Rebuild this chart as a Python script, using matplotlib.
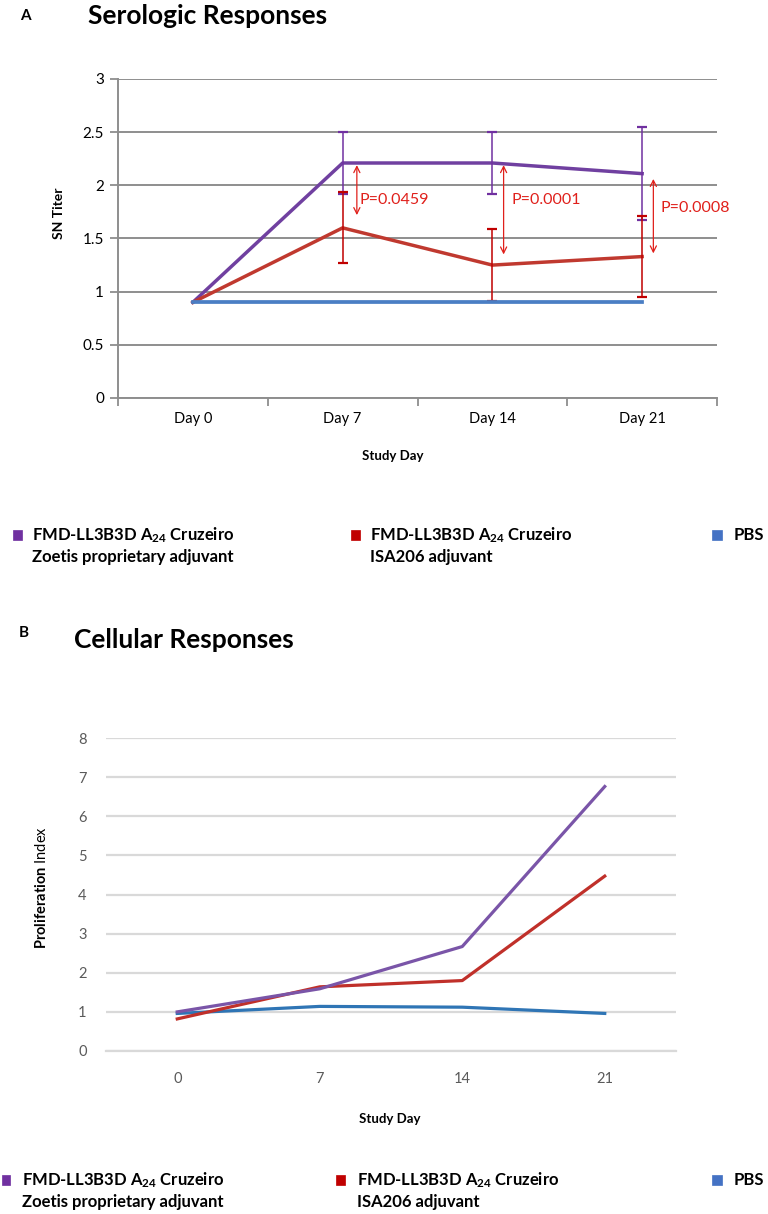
import matplotlib
matplotlib.use('Agg')
import matplotlib.pyplot as plt
from matplotlib.patches import Rectangle

# ---------------- data ----------------
days_top = ['Day 0', 'Day 7', 'Day 14', 'Day 21']
zoetis_sn = [0.90, 2.21, 2.21, 2.11]
zoetis_sn_err = [0.0, 0.29, 0.29, 0.44]
isa_sn = [0.90, 1.60, 1.25, 1.33]
isa_sn_err = [0.0, 0.335, 0.335, 0.38]
pbs_sn = [0.90, 0.90, 0.90, 0.90]
top_yticks = [0, 0.5, 1, 1.5, 2, 2.5, 3]
top_yticklabels = ['0', '0.5', '1', '1.5', '2', '2.5', '3']

p_labels = ['P=0.0459', 'P=0.0001', 'P=0.0008']
p_days = [1, 2, 3]
p_arrow_top = [2.19, 2.19, 2.06]
p_arrow_bottom = [1.72, 1.35, 1.36]
p_text_y = [1.86, 1.86, 1.79]

days_bot = ['0', '7', '14', '21']
zoetis_pi = [1.00, 1.59, 2.67, 6.76]
isa_pi = [0.82, 1.64, 1.80, 4.47]
pbs_pi = [0.96, 1.14, 1.12, 0.96]
bot_yticks = [0, 1, 2, 3, 4, 5, 6, 7, 8]

legend_line1 = r'FMD-LL3B3D A$_{\mathbf{24}}$ Cruzeiro'
legend_zoetis2 = 'Zoetis proprietary adjuvant'
legend_isa2 = 'ISA206 adjuvant'
legend_pbs = 'PBS'

# ---------------- style ----------------
W, H = 768, 1214
plt.rcParams['font.family'] = ['Lato', 'DejaVu Sans']
plt.rcParams['mathtext.fontset'] = 'custom'
plt.rcParams['mathtext.rm'] = 'Lato'
plt.rcParams['mathtext.bf'] = 'Lato:bold'
plt.rcParams['mathtext.it'] = 'Lato:italic'

PURPLE_T = '#7040a0'
RED_T = '#c0392f'
BLUE_T = '#4a7ec4'
PURPLE_EB = '#7030a0'
RED_EB = '#c00000'
ARROW_RED = '#e0201b'
GRID_T = '#8e8e8e'

PURPLE_B = '#7a55a8'
RED_B = '#c0302a'
BLUE_B = '#2f75b5'
GRID_B = '#d9d9d9'
TICK_B = '#5a5a5a'

LEG_PURPLE = '#7030a0'
LEG_RED = '#c00000'
LEG_BLUE = '#4472c4'

fig = plt.figure(figsize=(W / 100, H / 100), dpi=100)


def fx(x):
    return x / W


def fy(y):
    return 1 - y / H


def axes_px(l, t, r, b):
    return fig.add_axes([l / W, 1 - b / H, (r - l) / W, (b - t) / H])


# ---------------- panel A ----------------
axA = axes_px(118, 79, 717, 398)
xs = list(range(len(days_top)))
axA.set_xlim(-0.5, len(days_top) - 0.5)
axA.set_ylim(0, 3)
axA.set_yticks(top_yticks)
axA.set_yticklabels(top_yticklabels, fontsize=11)
axA.set_xticks(xs)
axA.set_xticklabels(days_top, fontsize=10.5)
axA.set_xticks([i - 0.5 for i in range(len(days_top) + 1)], minor=True)
axA.tick_params(axis='x', which='major', length=0, pad=10)
axA.tick_params(axis='x', which='minor', length=6, width=1.3, color=GRID_T, direction='out')
axA.tick_params(axis='y', length=6, width=1.3, color=GRID_T, direction='out', pad=4)
axA.yaxis.grid(True, color=GRID_T, lw=1.4)
axA.set_axisbelow(True)
for s in ['top', 'right']:
    axA.spines[s].set_visible(False)
for s in ['left', 'bottom']:
    axA.spines[s].set_color(GRID_T)
    axA.spines[s].set_linewidth(1.4)

axA.plot(xs, zoetis_sn, color=PURPLE_T, lw=2.5, zorder=3)
axA.plot(xs, isa_sn, color=RED_T, lw=2.5, zorder=3)

ez = [i for i in xs if zoetis_sn_err[i] > 0]
axA.errorbar(ez, [zoetis_sn[i] for i in ez], yerr=[zoetis_sn_err[i] for i in ez],
             fmt='none', ecolor=PURPLE_EB, elinewidth=1.1, capsize=3.5, capthick=1.6, zorder=4)
ei = [i for i in xs if isa_sn_err[i] > 0]
axA.errorbar(ei, [isa_sn[i] for i in ei], yerr=[isa_sn_err[i] for i in ei],
             fmt='none', ecolor=RED_EB, elinewidth=1.1, capsize=3.5, capthick=1.6, zorder=4)
axA.plot(xs, pbs_sn, color=BLUE_T, lw=2.7, zorder=5)

arrow_off = [0.095, 0.075, 0.075]
text_off = [0.112, 0.128, 0.12]
for k, d in enumerate(p_days):
    axA.annotate('', xy=(d + arrow_off[k], p_arrow_bottom[k]), xytext=(d + arrow_off[k], p_arrow_top[k]),
                 arrowprops=dict(arrowstyle='<->', color=ARROW_RED, lw=0.9, mutation_scale=11,
                                 shrinkA=0, shrinkB=0), zorder=6)
    axA.text(d + text_off[k], p_text_y[k], p_labels[k], color=ARROW_RED, fontsize=11.5,
             ha='left', va='center', zorder=6)

fig.text(fx(25), fy(16), 'A', fontsize=11, weight='bold', ha='center', va='center')
fig.text(fx(88), fy(16), 'Serologic Responses', fontsize=19, weight='bold', ha='left', va='center')
fig.text(fx(59), fy(213), 'SN Titer', fontsize=10, weight='bold', rotation=90, ha='center', va='center')
fig.text(fx(393), fy(456), 'Study Day', fontsize=9.5, weight='bold', ha='center', va='center')

# ---------------- panel B ----------------
axB = axes_px(106, 738, 676, 1051)
axB.set_xlim(-0.5, len(days_bot) - 0.5)
axB.set_ylim(0, 8)
axB.set_yticks(bot_yticks)
axB.set_yticklabels([str(v) for v in bot_yticks], fontsize=10.5, color=TICK_B)
axB.set_xticks(xs)
axB.set_xticklabels(days_bot, fontsize=10.5, color=TICK_B)
axB.tick_params(axis='both', length=0)
axB.tick_params(axis='y', pad=14)
axB.tick_params(axis='x', pad=15)
axB.yaxis.grid(True, color=GRID_B, lw=1.6)
axB.set_axisbelow(True)
for s in ['top', 'right', 'left']:
    axB.spines[s].set_visible(False)
axB.spines['bottom'].set_color(GRID_B)
axB.spines['bottom'].set_linewidth(1.6)

axB.plot(xs, pbs_pi, color=BLUE_B, lw=2.3, zorder=3)
axB.plot(xs, isa_pi, color=RED_B, lw=2.3, zorder=4)
axB.plot(xs, zoetis_pi, color=PURPLE_B, lw=2.3, zorder=5)

fig.text(fx(24), fy(633), 'B', fontsize=11, weight='bold', ha='center', va='center')
fig.text(fx(74), fy(640), 'Cellular Responses', fontsize=19, weight='bold', ha='left', va='center')
fig.text(fx(41), fy(887), r'$\mathbf{Proliferation}$ Index', fontsize=10.5, rotation=90,
         ha='center', va='center')
fig.text(fx(390), fy(1119), 'Study Day', fontsize=9.5, weight='bold', ha='center', va='center')


# ---------------- legends ----------------
def legend_block(y1, y2, entries):
    for (sq_x, sq_w, txt_x, color, l1, l2) in entries:
        fig.add_artist(Rectangle((fx(sq_x), fy(y1 + 5)), sq_w / W, 10 / H, transform=fig.transFigure,
                                 facecolor=color, edgecolor=color, lw=0.5))
        fig.text(fx(txt_x), fy(y1), l1, fontsize=12, weight='bold', ha='left', va='center')
        if l2:
            fig.text(fx(txt_x), fy(y2), l2, fontsize=12, weight='bold', ha='left', va='center')


legend_block(535, 557, [
    (13, 9, 32, LEG_PURPLE, legend_line1, legend_zoetis2),
    (351, 9, 370, LEG_RED, legend_line1, legend_isa2),
    (712, 10, 734, LEG_BLUE, legend_pbs, None),
])
legend_block(1180, 1202, [
    (2, 8, 22, LEG_PURPLE, legend_line1, legend_zoetis2),
    (336, 9, 357, LEG_RED, legend_line1, legend_isa2),
    (712, 10, 734, LEG_BLUE, legend_pbs, None),
])

fig.savefig('out.png', dpi=100)
